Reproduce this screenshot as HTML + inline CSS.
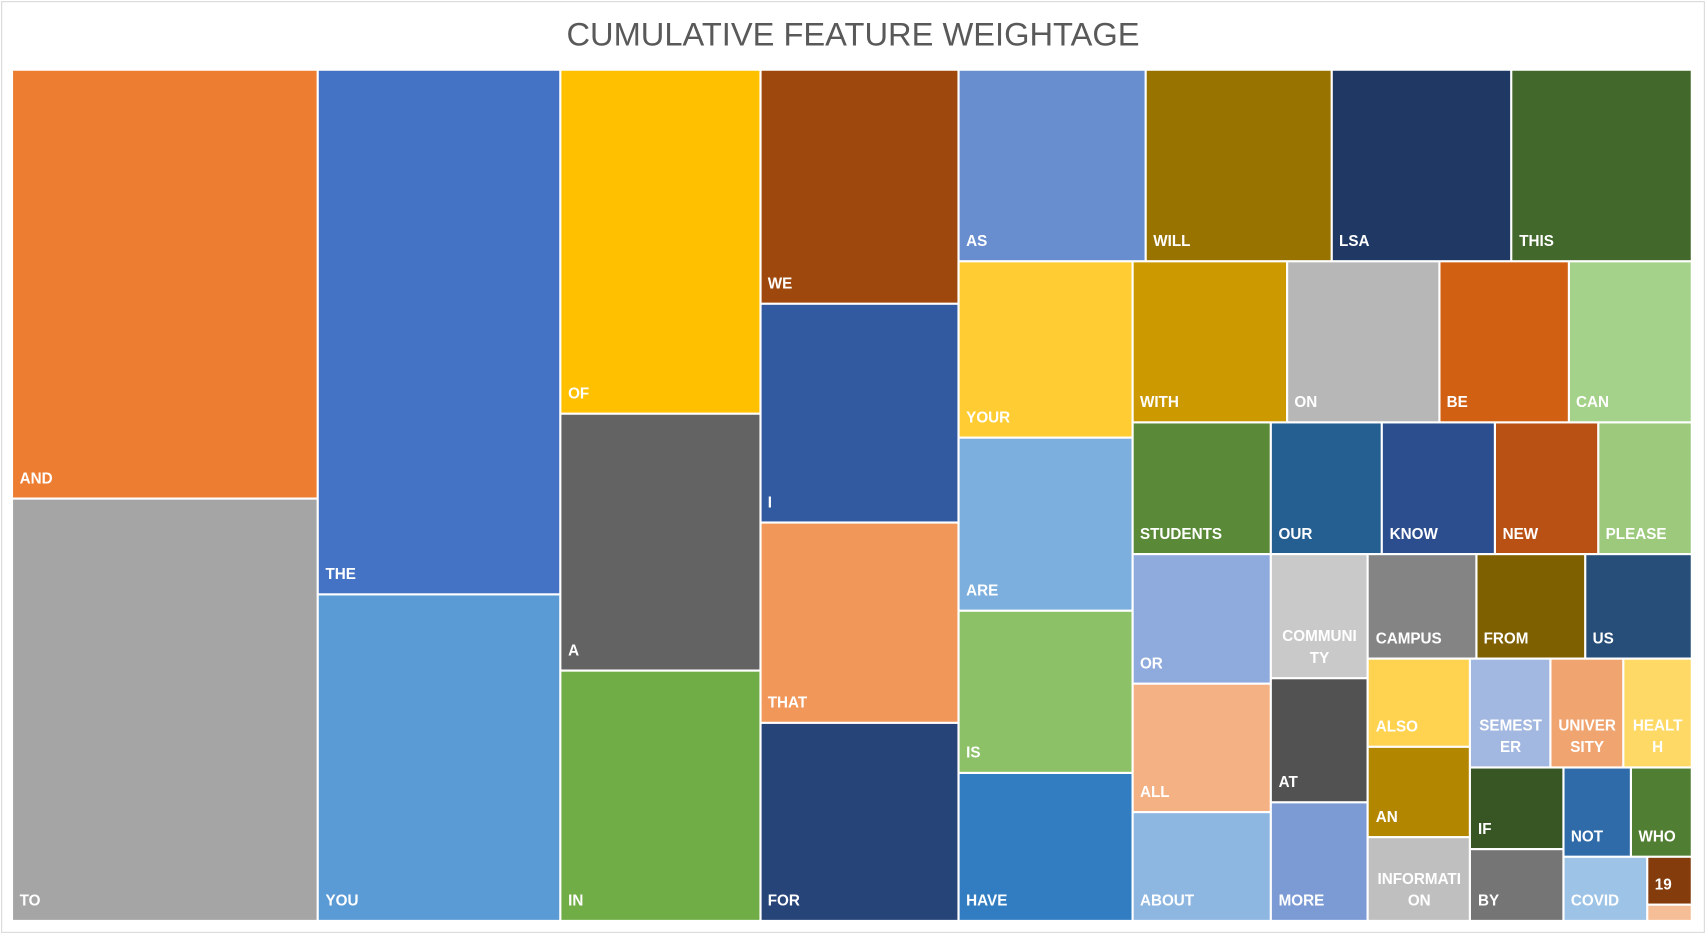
<!DOCTYPE html>
<html><head><meta charset="utf-8">
<style>
html,body{margin:0;padding:0;background:#fff;}
#wrap{width:1706px;height:934px;overflow:hidden;position:relative;}
#chart{position:absolute;left:0;top:0;width:1568px;height:858px;transform-origin:0 0;transform:scale(1.0880,1.0886);font-family:"Liberation Sans",sans-serif;}
#frame{position:absolute;left:1px;top:1px;width:1564px;height:854px;border:1px solid #d9d9d9;}
#title{position:absolute;left:0;width:1568px;top:16px;text-align:center;font-size:30px;color:#595959;}
.cell{position:absolute;box-sizing:border-box;}
.lab{position:absolute;left:6px;bottom:8px;color:#fff;font-size:14px;font-weight:bold;white-space:pre-line;line-height:20px;}
.lab.multi{left:0;right:0;text-align:center;}
</style></head><body>
<div id="wrap">
<div id="chart">
<div id="frame"></div>
<div id="title">CUMULATIVE FEATURE WEIGHTAGE</div>
<div id="plot"></div>
</div></div>
<script>
// words, weights and colors
const words = ["AND","TO","THE","YOU","OF","A","IN","WE","I","THAT","FOR","AS","WILL","LSA","THIS","YOUR","ARE","IS","HAVE","WITH","ON","BE","CAN","STUDENTS","OUR","KNOW","NEW","PLEASE","OR","ALL","ABOUT","COMMUNITY","AT","MORE","CAMPUS","FROM","US","ALSO","AN","INFORMATION","SEMESTER","UNIVERSITY","HEALTH","IF","BY","NOT","WHO","COVID","19","OTHER"];
const weights = [110.0,108.4,106.8,66.4,57.6,43.0,41.9,38.9,36.4,33.5,32.9,30.1,29.9,29.0,29.0,25.6,25.3,23.7,21.5,20.9,20.6,17.5,16.7,15.2,12.2,12.4,11.3,10.3,15.1,15.0,12.6,10.1,10.1,9.7,9.5,9.6,9.4,7.6,7.7,7.2,7.3,6.6,6.2,6.4,5.6,5.1,4.6,4.5,1.8,0.6];
const colors = ["#ED7D31","#A5A5A5","#4472C4","#5B9BD5","#FFC000","#636363","#70AD47","#9E480E","#325AA0","#F1975A","#264478","#698ED0","#997300","#203864","#43682B","#FFCD33","#7CAFDD","#8CC168","#327DC2","#CC9A00","#B7B7B7","#D26012","#A5D28A","#5A8A37","#255E91","#2C4D8E","#BA5114","#9DC97D","#8FAADC","#F4B183","#8DB6E0","#C9C9C9","#525252","#7C9BD5","#848484","#7F6000","#264E79","#FFD34F","#B38600","#BFBFBF","#A3B8E0","#F0A571","#FFD966","#375623","#757575","#2E6BA8","#507E32","#9DC3E6","#843C0C","#F5BE97"];
const wrapped = {"COMMUNITY":"COMMUNI\nTY","INFORMATION":"INFORMATI\nON","SEMESTER":"SEMEST\nER","UNIVERSITY":"UNIVER\nSITY","HEALTH":"HEALT\nH","OTHER":""};
// layout tree: 'h' splits horizontally (side by side), 'v' stacks vertically; numbers are word indices
const tree = ['h',[
 ['v',[0,1]],['v',[2,3]],['v',[4,5,6]],['v',[7,8,9,10]],
 ['v',[
   ['h',[11,12,13,14]],
   ['h',[
     ['v',[15,16,17,18]],
     ['v',[
       ['h',[19,20,21,22]],
       ['h',[23,24,25,26,27]],
       ['h',[
         ['v',[28,29,30]],
         ['v',[31,32,33]],
         ['v',[
           ['h',[34,35,36]],
           ['h',[
             ['v',[37,38,39]],
             ['v',[
               ['h',[40,41,42]],
               ['h',[
                 ['v',[43,44]],
                 ['v',[
                   ['h',[45,46]],
                   ['h',[47,['v',[48,49]]]]
                 ]]
               ]]
             ]]
           ]]
         ]]
       ]]
     ]]
   ]]
 ]]
]];
function total(n){return typeof n==='number'?weights[n]:n[1].reduce((s,c)=>s+total(c),0);}
const plot=document.getElementById('plot');
function layout(n,x,y,w,h){
  if(typeof n==='number'){draw(n,x,y,w,h);return;}
  const t=total(n);let off=0;
  n[1].forEach(c=>{const f=total(c)/t;
    if(n[0]==='h'){layout(c,x+off,y,w*f,h);off+=w*f;}
    else{layout(c,x,y+off,w,h*f);off+=h*f;}
  });
}
function draw(i,x,y,w,h){
  const d=document.createElement('div');
  d.className='cell';
  
  
  d.style.left=(x+1)+'px';d.style.top=(y+1)+'px';
  d.style.width=Math.max(0,w-2)+'px';d.style.height=Math.max(0,h-2)+'px';
  d.style.background=colors[i];
  const txt=(words[i] in wrapped)?wrapped[words[i]]:words[i];
  if(txt){const l=document.createElement('div');
    l.className='lab'+(txt.indexOf('\n')>=0?' multi':'');
    
    
    l.textContent=txt;d.appendChild(l);}
  plot.appendChild(d);
}
layout(tree,11,64,1544,782);
</script>
</body></html>
